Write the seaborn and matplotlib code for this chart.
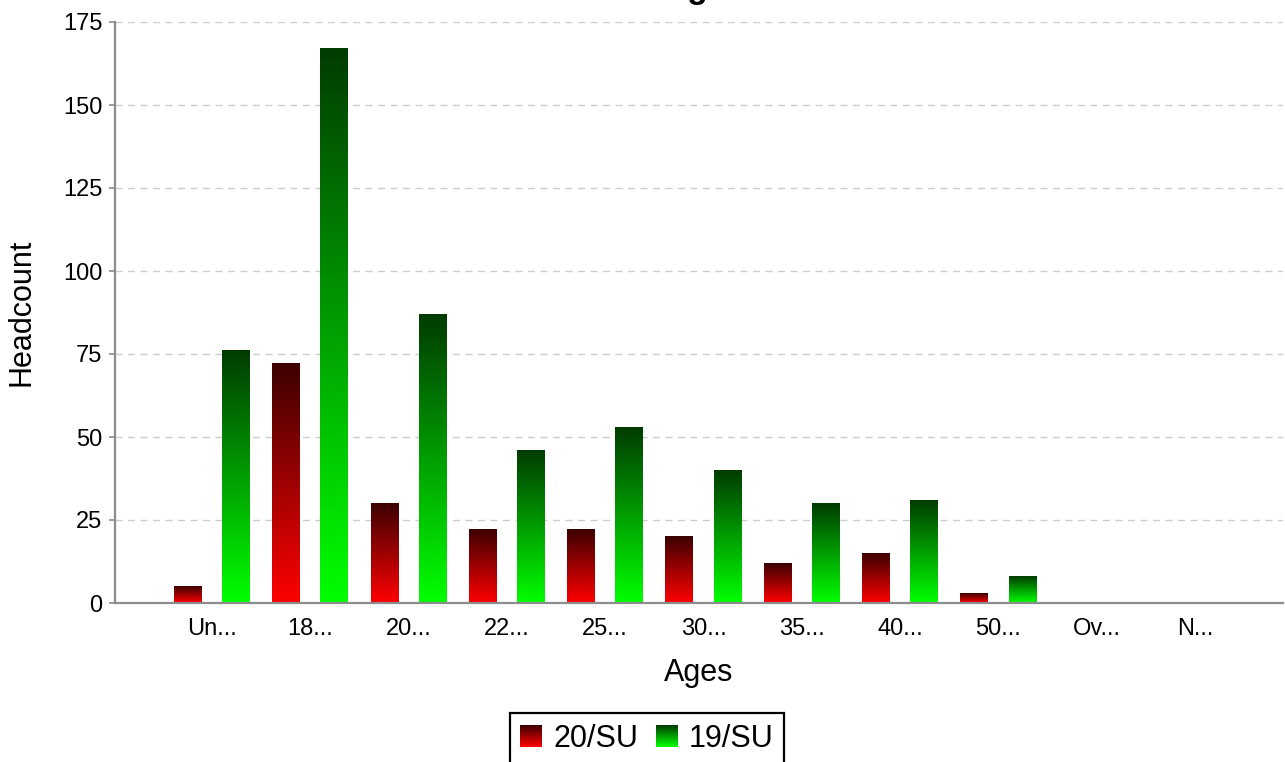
import numpy as np
import pandas as pd
import matplotlib
matplotlib.use("Agg")
import matplotlib.pyplot as plt
import seaborn as sns
from matplotlib.colors import LinearSegmentedColormap
from matplotlib.patches import Rectangle
from matplotlib.legend_handler import HandlerBase

# data
categories = ["Un...", "18...", "20...", "22...", "25...", "30...",
              "35...", "40...", "50...", "Ov...", "N..."]
terms = ["20/SU", "19/SU"]
su20 = [5, 72, 30, 22, 22, 20, 12, 15, 3, 0, 0]
su19 = [76, 167, 87, 46, 53, 40, 30, 31, 8, 0, 0]

red_cmap = LinearSegmentedColormap.from_list("reds", ["#ff0000", "#3c0000"])
green_cmap = LinearSegmentedColormap.from_list("greens", ["#00ff00", "#003c00"])


def build_frame():
    """Long-format table for seaborn."""
    rows = []
    for term, vals in zip(terms, [su20, su19]):
        for cat, v in zip(categories, vals):
            rows.append({"Ages": cat, "Term": term, "Headcount": v})
    return pd.DataFrame(rows)


def gradient_fill(ax, patch, cmap):
    """Replace a flat bar with a vertical gradient (bright bottom, dark top)."""
    x, y = patch.get_xy()
    w, h = patch.get_width(), patch.get_height()
    patch.set_visible(False)
    if h <= 0:
        return
    grad = np.linspace(0, 1, 256).reshape(-1, 1)
    ax.imshow(grad, extent=[x, x + w, y, y + h], origin="lower", cmap=cmap,
              aspect="auto", zorder=2, interpolation="bilinear")


class GradientHandler(HandlerBase):
    def __init__(self, cmap):
        super().__init__()
        self.cmap = cmap

    def create_artists(self, legend, orig_handle, xdescent, ydescent,
                       width, height, fontsize, trans):
        n = 40
        arts = []
        for i in range(n):
            arts.append(Rectangle((-xdescent, -ydescent + height * i / n),
                                  width, height / n * 1.05,
                                  facecolor=self.cmap(i / (n - 1)),
                                  edgecolor="none", transform=trans))
        return arts


sns.set_style("white")
plt.rcParams["font.family"] = ["Liberation Sans", "DejaVu Sans"]
plt.rcParams["text.color"] = "black"
plt.rcParams["axes.labelcolor"] = "black"
plt.rcParams["xtick.color"] = "black"
plt.rcParams["ytick.color"] = "black"

df = build_frame()

fig = plt.figure(figsize=(12.85, 7.62), dpi=100)
ax = fig.add_axes([115 / 1285, 1 - 603 / 762, 1168 / 1285, 581 / 762])

sns.barplot(data=df, x="Ages", y="Headcount", hue="Term", hue_order=terms,
            order=categories, width=0.98, gap=0.42, legend=False, ax=ax,
            palette=["#ff0000", "#00ff00"])

for container, cmap in zip(ax.containers, [red_cmap, green_cmap]):
    for patch in container:
        gradient_fill(ax, patch, cmap)

ax.set_xlim(-0.987, 10.895)
ax.set_ylim(0, 175)
ax.set_yticks(range(0, 176, 25))
ax.yaxis.grid(True, color="#cccccc", linestyle=(0, (5, 4)), linewidth=1.0)
ax.set_axisbelow(True)

for side in ["top", "right"]:
    ax.spines[side].set_visible(False)
for side in ["left", "bottom"]:
    ax.spines[side].set_color("#8c8c8c")
    ax.spines[side].set_linewidth(1.6)
    ax.spines[side].set_zorder(3)

ax.tick_params(axis="y", length=4, width=1.2, color="#8c8c8c",
               labelcolor="black", labelsize=17, pad=5, left=True)
ax.tick_params(axis="x", length=0, labelcolor="black", labelsize=17, pad=11)

ax.set_xlabel("Ages", fontsize=22, labelpad=13, color="black")
ax.set_ylabel("Headcount", fontsize=22, labelpad=19, color="black")

fig.text(0.5, 1 + 2 / 762, "Female Ages", ha="center", va="baseline",
         fontsize=24, fontweight="bold", color="black")

h1 = Rectangle((0, 0), 1, 1)
h2 = Rectangle((0, 0), 1, 1)
leg = fig.legend([h1, h2], terms,
                 handler_map={h1: GradientHandler(red_cmap),
                              h2: GradientHandler(green_cmap)},
                 loc="upper center", bbox_to_anchor=(647 / 1285, 1 - 713 / 762),
                 ncol=2, fontsize=22, frameon=True, fancybox=False,
                 edgecolor="black", framealpha=1, borderpad=0.35,
                 handlelength=0.72, handleheight=0.72, handletextpad=0.35,
                 columnspacing=0.6, borderaxespad=0)
leg.get_frame().set_linewidth(1.6)
for t in leg.get_texts():
    t.set_color("black")

fig.savefig("out.png", dpi=100)
